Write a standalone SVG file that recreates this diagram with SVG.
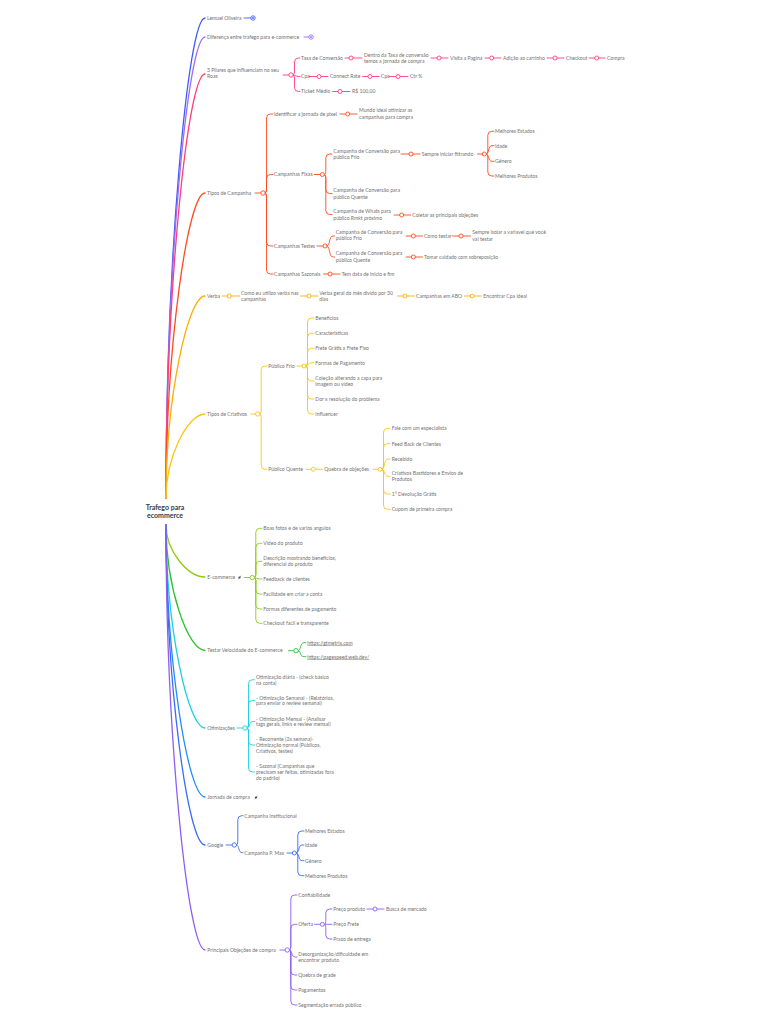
<svg xmlns="http://www.w3.org/2000/svg" width="768" height="1024" viewBox="0 0 768 1024">
<style>
.t{font-family:Lato,"Open Sans","Liberation Sans",sans-serif;font-size:5.1px;fill:#727272}
.u{text-decoration:underline}
.root{font-family:Lato,"Open Sans","Liberation Sans",sans-serif;font-size:7px;font-weight:bold;fill:#3a3a3a;text-anchor:middle}
.k path{fill:none;stroke-linecap:round;stroke-linejoin:round;stroke-width:0.9}
.k path.m{stroke-width:1.3}
.k circle{fill:#fff;stroke-width:0.9}
.b1{stroke:#3d5afe}.p1{stroke:#a06cf0}.pk{stroke:#ff3d7a}.rd{stroke:#ff4a1f}.or{stroke:#ffad00}.gd{stroke:#f9c515}
.lm{stroke:#8fcc14}.gr{stroke:#2fc02f}.cy{stroke:#1fcfdc}.jb{stroke:#1e8cff}.gb{stroke:#3b6bf5}.pu{stroke:#8e5ef2}
.dot{stroke:none}
.ic{fill:#4a4a4a}
</style>
<rect width="768" height="1024" fill="#fff"/>
<g id="connectors" class="k">
<path class="m b1" d="M166,498 C166,258 188,18 205,18"/>
<path class="m p1" d="M166,498 C166,267.5 188,37 205,37"/>
<path class="m pk" d="M166,498 C166,286 188,74 205,74"/>
<path class="m rd" d="M166,498 C166,345.5 188,193 205,193"/>
<path class="m or" d="M166,498 C166,397 188,296 205,296"/>
<path class="m gd" d="M166,498 C166,456 188,414 205,414"/>
<path class="m lm" d="M166,525 C166,551 188,577 205,577"/>
<path class="m gr" d="M166,525 C166,587.75 188,650.5 205,650.5"/>
<path class="m cy" d="M166,525 C166,626.5 188,728 205,728"/>
<path class="m jb" d="M166,525 C166,661 188,797 205,797"/>
<path class="m gb" d="M166,525 C166,685 188,845 205,845"/>
<path class="m pu" d="M166,525 C166,737.5 188,950 205,950"/>
<path class="b1" d="M244,18 H250.8"/>
<path class="p1" d="M304,37 H308.8"/>
<path class="pk" d="M283,75 H288.8"/>
<path class="pk" d="M293,75 Q294.5,75 294.5,72 V62 Q294.5,58 298.5,58 H300"/>
<path class="pk" d="M293,75 C296,75 295,76.5 299,76.5 H300"/>
<path class="pk" d="M293,75 Q294.5,75 294.5,78 V87.5 Q294.5,91.5 298.5,91.5 H300"/>
<path class="pk" d="M345,58 H349 M353,58 H362"/>
<path class="pk" d="M431,58 H437 M441,58 H448"/>
<path class="pk" d="M485,58 H489.7 M493.7,58 H501"/>
<path class="pk" d="M547,58 H553 M557,58 H564"/>
<path class="pk" d="M589,58 H594.7 M598.7,58 H605"/>
<path class="pk" d="M309,76.5 H317 M321,76.5 H328"/>
<path class="pk" d="M362.5,76.5 H368 M372,76.5 H379"/>
<path class="pk" d="M389,76.5 H396 M400,76.5 H408"/>
<path class="pk" d="M332.5,91.5 H338 M342,91.5 H350"/>
<path class="rd" d="M255,193 H261"/>
<path class="rd" d="M265,193 Q266.5,193 266.5,190 V118 Q266.5,114 270.5,114 H273"/>
<path class="rd" d="M265,193 Q266.5,193 266.5,190 V178.5 Q266.5,174.5 270.5,174.5 H273"/>
<path class="rd" d="M265,193 Q266.5,193 266.5,196 V242 Q266.5,246 270.5,246 H273"/>
<path class="rd" d="M265,193 Q266.5,193 266.5,196 V270 Q266.5,274 270.5,274 H273"/>
<path class="rd" d="M340,114 H345.7 M349.7,114 H357"/>
<path class="rd" d="M314,174.5 H320.3"/>
<path class="rd" d="M324.3,174.5 Q325.8,174.5 325.8,171.5 V158 Q325.8,154 329.8,154 H332"/>
<path class="rd" d="M324.3,174.5 Q325.8,174.5 325.8,177.5 V189.5 Q325.8,193.5 329.8,193.5 H332"/>
<path class="rd" d="M324.3,174.5 Q325.8,174.5 325.8,177.5 V210.5 Q325.8,214.5 329.8,214.5 H332"/>
<path class="rd" d="M401,154 H409 M413,154 H420"/>
<path class="rd" d="M477.5,154 H482.3"/>
<path class="rd" d="M486.3,154 Q487.8,154 487.8,151 V135.3 Q487.8,131.3 491.8,131.3 H494"/>
<path class="rd" d="M486.3,154 C489.5,154 487.8,145.7 492,145.7 H494"/>
<path class="rd" d="M486.3,154 C489.5,154 487.8,161.3 492,161.3 H494"/>
<path class="rd" d="M486.3,154 Q487.8,154 487.8,157 V172 Q487.8,176 491.8,176 H494"/>
<path class="rd" d="M394,215 H399.7 M403.7,215 H410.5"/>
<path class="rd" d="M317,246 H323"/>
<path class="rd" d="M327,246 C330.5,246 328.5,236 333,236 H334.5"/>
<path class="rd" d="M327,246 C330.5,246 328.5,257 333,257 H334.5"/>
<path class="rd" d="M406,236 H411.3 M415.3,236 H422.5"/>
<path class="rd" d="M452.5,236 H459 M463,236 H470.5"/>
<path class="rd" d="M406,257 H411.3 M415.3,257 H422.5"/>
<path class="rd" d="M323.5,274 H328 M332,274 H340"/>
<path class="or" d="M222,296 H227.3 M231.3,296 H239.5"/>
<path class="or" d="M300.5,296 H307 M311,296 H318"/>
<path class="or" d="M397.5,296 H403 M407,296 H414.5"/>
<path class="or" d="M464.5,296 H470.3 M474.3,296 H481.5"/>
<path class="gd" d="M251,414 H255.7"/>
<path class="gd" d="M259.7,414 Q261.2,414 261.2,411 V370 Q261.2,366 265.2,366 H267"/>
<path class="gd" d="M259.7,414 Q261.2,414 261.2,417 V465.3 Q261.2,469.3 265.2,469.3 H267"/>
<path class="gd" d="M297,366 H302"/>
<path class="gd" d="M306,366 Q307.5,366 307.5,363 V322 Q307.5,318 311.5,318 H314"/>
<path class="gd" d="M306,366 Q307.5,366 307.5,363 V337.3 Q307.5,333.3 311.5,333.3 H314"/>
<path class="gd" d="M306,366 Q307.5,366 307.5,363 V352.3 Q307.5,348.3 311.5,348.3 H314"/>
<path class="gd" d="M306,366 C309,366 308,362.7 312,362.7 H314"/>
<path class="gd" d="M306,366 Q307.5,366 307.5,369 V377 Q307.5,381 311.5,381 H314"/>
<path class="gd" d="M306,366 Q307.5,366 307.5,369 V395 Q307.5,399 311.5,399 H314"/>
<path class="gd" d="M306,366 Q307.5,366 307.5,369 V410 Q307.5,414 311.5,414 H314"/>
<path class="gd" d="M306,469.3 H311.3 M315.3,469.3 H322.5"/>
<path class="gd" d="M373,469.3 H378"/>
<path class="gd" d="M382,469.3 Q383.5,469.3 383.5,466.3 V432.3 Q383.5,428.3 387.5,428.3 H390"/>
<path class="gd" d="M382,469.3 Q383.5,469.3 383.5,466.3 V447.7 Q383.5,443.7 387.5,443.7 H390"/>
<path class="gd" d="M382,469.3 C385.5,469.3 383.5,459 388,459 H390"/>
<path class="gd" d="M382,469.3 C385.5,469.3 383.5,476.3 388,476.3 H390"/>
<path class="gd" d="M382,469.3 Q383.5,469.3 383.5,472.3 V490 Q383.5,494 387.5,494 H390"/>
<path class="gd" d="M382,469.3 Q383.5,469.3 383.5,472.3 V505.3 Q383.5,509.3 387.5,509.3 H390"/>
<path class="lm" d="M244,577.5 H250.3"/>
<path class="lm" d="M254.3,577.5 Q255.8,577.5 255.8,574.5 V532.3 Q255.8,528.3 259.8,528.3 H262"/>
<path class="lm" d="M254.3,577.5 Q255.8,577.5 255.8,574.5 V547.3 Q255.8,543.3 259.8,543.3 H262"/>
<path class="lm" d="M254.3,577.5 Q255.8,577.5 255.8,574.5 V565.3 Q255.8,561.3 259.8,561.3 H262"/>
<path class="lm" d="M254.3,577.5 C257,577.5 256.5,579 260,579 H262"/>
<path class="lm" d="M254.3,577.5 Q255.8,577.5 255.8,580.5 V590 Q255.8,594 259.8,594 H262"/>
<path class="lm" d="M254.3,577.5 Q255.8,577.5 255.8,580.5 V605 Q255.8,609 259.8,609 H262"/>
<path class="lm" d="M254.3,577.5 Q255.8,577.5 255.8,580.5 V619.3 Q255.8,623.3 259.8,623.3 H262"/>
<path class="gr" d="M288.5,650.7 H294"/>
<path class="gr" d="M298,650.7 C301.5,650.7 299.5,642.7 304,642.7 H306"/>
<path class="gr" d="M298,650.7 C301.5,650.7 299.5,656.7 304,656.7 H306"/>
<path class="cy" d="M237,728 H243"/>
<path class="cy" d="M247,728 Q248.5,728 248.5,725 V683.7 Q248.5,679.7 252.5,679.7 H254.5"/>
<path class="cy" d="M247,728 Q248.5,728 248.5,725 V704.5 Q248.5,700.5 252.5,700.5 H254.5"/>
<path class="cy" d="M247,728 C250.5,728 248.5,721.5 253,721.5 H254.5"/>
<path class="cy" d="M247,728 Q248.5,728 248.5,731 V741 Q248.5,745 252.5,745 H254.5"/>
<path class="cy" d="M247,728 Q248.5,728 248.5,731 V768 Q248.5,772 252.5,772 H254.5"/>
<path class="gb" d="M226,845 H232.3"/>
<path class="gb" d="M236.3,845 Q237.8,845 237.8,842 V819.7 Q237.8,815.7 241.8,815.7 H243"/>
<path class="gb" d="M236.3,845 C239.8,845 237.8,852.7 242.3,852.7 H243"/>
<path class="gb" d="M287,853 H292.3"/>
<path class="gb" d="M296.3,853 Q297.8,853 297.8,850 V835 Q297.8,831 301.8,831 H304"/>
<path class="gb" d="M296.3,853 C299.8,853 297.8,845 302.3,845 H304"/>
<path class="gb" d="M296.3,853 C299.8,853 297.8,860.7 302.3,860.7 H304"/>
<path class="gb" d="M296.3,853 Q297.8,853 297.8,856 V871.7 Q297.8,875.7 301.8,875.7 H304"/>
<path class="pu" d="M280,950 H285.3"/>
<path class="pu" d="M289.3,950 Q290.8,950 290.8,947 V899 Q290.8,895 294.8,895 H297"/>
<path class="pu" d="M289.3,950 Q290.8,950 290.8,947 V928.3 Q290.8,924.3 294.8,924.3 H297"/>
<path class="pu" d="M289.3,950 C292.8,950 290.8,957 295.3,957 H297"/>
<path class="pu" d="M289.3,950 Q290.8,950 290.8,953 V971 Q290.8,975 294.8,975 H297"/>
<path class="pu" d="M289.3,950 Q290.8,950 290.8,953 V986 Q290.8,990 294.8,990 H297"/>
<path class="pu" d="M289.3,950 Q290.8,950 290.8,953 V1001 Q290.8,1005 294.8,1005 H297"/>
<path class="pu" d="M314.5,924.3 H320.3"/>
<path class="pu" d="M324.3,924.3 Q325.8,924.3 325.8,921.3 V913 Q325.8,909 329.8,909 H332"/>
<path class="pu" d="M324.3,924.3 H332"/>
<path class="pu" d="M324.3,924.3 Q325.8,924.3 325.8,927.3 V935 Q325.8,939 329.8,939 H332"/>
<path class="pu" d="M367,909 H373 M377,909 H384"/>
<circle class="b1" cx="253" cy="18" r="2.2"/><circle cx="253" cy="18" r="0.9" class="dot" style="fill:#3d5afe"/>
<circle class="p1" cx="311" cy="37" r="2.2"/><circle cx="311" cy="37" r="0.9" class="dot" style="fill:#a06cf0"/>
<circle class="pk" cx="291" cy="75" r="2.2"/>
<circle class="pk" cx="351" cy="58" r="2"/>
<circle class="pk" cx="439" cy="58" r="2"/>
<circle class="pk" cx="491.7" cy="58" r="2"/>
<circle class="pk" cx="555" cy="58" r="2"/>
<circle class="pk" cx="596.7" cy="58" r="2"/>
<circle class="pk" cx="319" cy="76.5" r="2"/>
<circle class="pk" cx="370" cy="76.5" r="2"/>
<circle class="pk" cx="398" cy="76.5" r="2"/>
<circle class="pk" cx="340" cy="91.5" r="2"/>
<circle class="rd" cx="263" cy="193" r="2.2"/>
<circle class="rd" cx="347.7" cy="114" r="2"/>
<circle class="rd" cx="322.3" cy="174.5" r="2"/>
<circle class="rd" cx="411" cy="154" r="2"/>
<circle class="rd" cx="484.3" cy="154" r="2"/>
<circle class="rd" cx="401.7" cy="215" r="2"/>
<circle class="rd" cx="325" cy="246" r="2"/>
<circle class="rd" cx="413.3" cy="236" r="2"/>
<circle class="rd" cx="461" cy="236" r="2"/>
<circle class="rd" cx="413.3" cy="257" r="2"/>
<circle class="rd" cx="330" cy="274" r="2"/>
<circle class="or" cx="229.3" cy="296" r="2"/>
<circle class="or" cx="309" cy="296" r="2"/>
<circle class="or" cx="405" cy="296" r="2"/>
<circle class="or" cx="472.3" cy="296" r="2"/>
<circle class="gd" cx="257.7" cy="414" r="2.2"/>
<circle class="gd" cx="304" cy="366" r="2"/>
<circle class="gd" cx="313.3" cy="469.3" r="2"/>
<circle class="gd" cx="380" cy="469.3" r="2"/>
<circle class="lm" cx="252.3" cy="577.5" r="2.2"/>
<circle class="gr" cx="296" cy="650.7" r="2.2"/>
<circle class="cy" cx="245" cy="728" r="2.2"/>
<circle class="gb" cx="234.3" cy="845" r="2.2"/>
<circle class="gb" cx="294.3" cy="853" r="2"/>
<circle class="pu" cx="287.3" cy="950" r="2.2"/>
<circle class="pu" cx="322.3" cy="924.3" r="2"/>
<circle class="pu" cx="375" cy="909" r="2"/>
</g>
<g id="root"><text class="root" x="165" y="509.5">Trafego para</text><text class="root" x="165" y="517.8">ecommerce</text></g>
<g id="n1"><text class="t" x="207" y="19.75">Lemuel Oliveira</text></g>
<g id="n2"><text class="t" x="207" y="38.75">Diferença entre trafego para e-commerce</text></g>
<g id="n3"><text class="t" x="207" y="72.25">3 Pilares que influenciam no seu<tspan x="207" dy="6">Roas</tspan></text></g>
<g id="n3a"><text class="t" x="301" y="59.75">Taxa de Conversão</text></g>
<g id="n3a1"><text class="t" x="364" y="56.75">Dentro da Taxa de conversão<tspan x="364" dy="6.5">temos a jornada de compra</tspan></text></g>
<g id="n3a2"><text class="t" x="450" y="59.75">Visita a Pagina</text></g>
<g id="n3a3"><text class="t" x="503" y="59.75">Adição ao carrinho</text></g>
<g id="n3a4"><text class="t" x="566" y="59.75">Checkout</text></g>
<g id="n3a5"><text class="t" x="607" y="59.75">Compra</text></g>
<g id="n3b"><text class="t" x="301" y="78.25">Cpa</text></g>
<g id="n3b1"><text class="t" x="330" y="78.25">Connect Rate</text></g>
<g id="n3b2"><text class="t" x="381" y="78.25">Cpc</text></g>
<g id="n3b3"><text class="t" x="410" y="78.25">Ctr %</text></g>
<g id="n3c"><text class="t" x="301" y="93.25">Ticket Médio</text></g>
<g id="n3c1"><text class="t" x="352" y="93.25">R$ 100,00</text></g>
<g id="n4"><text class="t" x="207" y="194.75">Tipos de Campanha</text></g>
<g id="n4a"><text class="t" x="274" y="115.75">Identificar a jornada de pixel</text></g>
<g id="n4a1"><text class="t" x="359" y="112">Mundo ideal otimizar as<tspan x="359" dy="6.5">campanhas para compra</tspan></text></g>
<g id="n4b"><text class="t" x="274" y="176.25">Campanhas Fixas</text></g>
<g id="n4b1"><text class="t" x="333.3" y="152.5">Campanha de Conversão para<tspan x="333.3" dy="6.3">público Frio</tspan></text></g>
<g id="n4b1a"><text class="t" x="421.7" y="155.75">Sempre iniciar filtrando</text></g>
<g id="n4b1a1"><text class="t" x="495" y="133">Melhores Estados</text></g>
<g id="n4b1a2"><text class="t" x="495" y="147.5">Idade</text></g>
<g id="n4b1a3"><text class="t" x="495" y="163">Gênero</text></g>
<g id="n4b1a4"><text class="t" x="495" y="177.75">Melhores Produtos</text></g>
<g id="n4b2"><text class="t" x="333.3" y="191.75">Campanha de Conversão para<tspan x="333.3" dy="7">público Quente</tspan></text></g>
<g id="n4b3"><text class="t" x="333.3" y="212.75">Campanha de Whats para<tspan x="333.3" dy="7">público Rmkt próximo</tspan></text></g>
<g id="n4b3a"><text class="t" x="412.3" y="217">Coletar as principais objeções</text></g>
<g id="n4c"><text class="t" x="274" y="247.75">Campanhas Testes</text></g>
<g id="n4c1"><text class="t" x="335.7" y="233.75">Campanha de Conversão para<tspan x="335.7" dy="6.7">público Frio</tspan></text></g>
<g id="n4c1a"><text class="t" x="424" y="237.75">Como testar</text></g>
<g id="n4c1a1"><text class="t" x="472.3" y="233.75">Sempre isolar a variavel que você<tspan x="472.3" dy="7">vai testar</tspan></text></g>
<g id="n4c2"><text class="t" x="335.7" y="255">Campanha de Conversão para<tspan x="335.7" dy="6.7">público Quente</tspan></text></g>
<g id="n4c2a"><text class="t" x="424" y="258.75">Tomar cuidado com sobreposição</text></g>
<g id="n4d"><text class="t" x="274" y="275.75">Campanhas Sazonais</text></g>
<g id="n4d1"><text class="t" x="341.7" y="275.75">Tem data de inicio e fim</text></g>
<g id="n5"><text class="t" x="207" y="297.75">Verba</text></g>
<g id="n5a"><text class="t" x="241" y="295">Como eu utilizo verba nas<tspan x="241" dy="6">campanhas</tspan></text></g>
<g id="n5b"><text class="t" x="319.3" y="295">Verba geral do mês divido por 30<tspan x="319.3" dy="6">dias</tspan></text></g>
<g id="n5c"><text class="t" x="416" y="297.75">Campanhas em ABO</text></g>
<g id="n5d"><text class="t" x="483.3" y="297.75">Encontrar Cpa ideal</text></g>
<g id="n6"><text class="t" x="207" y="415.75">Tipos de Criativos</text></g>
<g id="n6a"><text class="t" x="268.3" y="367.75">Público Frio</text></g>
<g id="n6a1"><text class="t" x="315.3" y="319.75">Beneficios</text></g>
<g id="n6a2"><text class="t" x="315.3" y="335">Caracteristicas</text></g>
<g id="n6a3"><text class="t" x="315.3" y="350">Frete Grátis x Frete Fixo</text></g>
<g id="n6a4"><text class="t" x="315.3" y="364.5">Formas de Pagamento</text></g>
<g id="n6a5"><text class="t" x="315.3" y="379.75">Coleção alterando a capa para<tspan x="315.3" dy="6">imagem ou vídeo</tspan></text></g>
<g id="n6a6"><text class="t" x="315.3" y="400.75">Dor x resolução do problema</text></g>
<g id="n6a7"><text class="t" x="315.3" y="415.75">Influencer</text></g>
<g id="n6b"><text class="t" x="268.3" y="471">Público Quente</text></g>
<g id="n6b1"><text class="t" x="324.3" y="471">Quebra de objeções</text></g>
<g id="n6b1a"><text class="t" x="391.7" y="430">Fale com um especialista</text></g>
<g id="n6b1b"><text class="t" x="391.7" y="445.5">Feed Back de Clientes</text></g>
<g id="n6b1c"><text class="t" x="391.7" y="460.75">Recebido</text></g>
<g id="n6b1d"><text class="t" x="391.7" y="475">Criativos Bastidores e Envios de<tspan x="391.7" dy="6">Produtos</tspan></text></g>
<g id="n6b1e"><text class="t" x="391.7" y="495.75">1° Devolução Grátis</text></g>
<g id="n6b1f"><text class="t" x="391.7" y="511">Cupom de primeira compra</text></g>
<g id="n7"><text class="t" x="207.3" y="578.5">E-commerce</text><g class="ic"><circle cx="239.5" cy="577.5" r="1.1"/><path d="M238.3,579.2 L240.9,575.8" stroke="#4a4a4a" stroke-width="0.6"/></g></g>
<g id="n7a"><text class="t" x="263.3" y="530">Boas fotos e de varios angulos</text></g>
<g id="n7b"><text class="t" x="263.3" y="545">Vídeo do produto</text></g>
<g id="n7c"><text class="t" x="263.3" y="560">Descrição mostrando benefícios,<tspan x="263.3" dy="6">diferencial do produto</tspan></text></g>
<g id="n7d"><text class="t" x="263.3" y="580.75">Feedback de clientes</text></g>
<g id="n7e"><text class="t" x="263.3" y="595.75">Facilidade em criar a conta</text></g>
<g id="n7f"><text class="t" x="263.3" y="610.75">Formas diferentes de pagamento</text></g>
<g id="n7g"><text class="t" x="263.3" y="625">Checkout facil e transparente</text></g>
<g id="n8"><text class="t" x="207.3" y="652.25">Testar Velocidade do E-commerce</text></g>
<g id="n8a"><text class="t u" x="307.3" y="644.5">https://gtmetrix.com</text></g>
<g id="n8b"><text class="t u" x="307.3" y="658.5">https://pagespeed.web.dev/</text></g>
<g id="n9"><text class="t" x="207.3" y="729.5">Otimizações</text></g>
<g id="n9a"><text class="t" x="256" y="678.5">Otimização diária - (check básico<tspan x="256" dy="6">na conta)</tspan></text></g>
<g id="n9b"><text class="t" x="256" y="699.5">- Otimização Semanal - (Relatórios,<tspan x="256" dy="5.7">para enviar o review semanal)</tspan></text></g>
<g id="n9c"><text class="t" x="256" y="720.5">- Otimização Mensal -  (Analisar<tspan x="256" dy="5.7">tags gerais, links e review mensal)</tspan></text></g>
<g id="n9d"><text class="t" x="256" y="741">- Recorrente (2x semana)-<tspan x="256" dy="6">Otimização normal (Públicos,</tspan><tspan x="256" dy="5.8">Criativos, testes)</tspan></text></g>
<g id="n9e"><text class="t" x="256" y="767.75">- Sazonal (Campanhas que<tspan x="256" dy="6">precisam ser feitas, otimizadas fora</tspan><tspan x="256" dy="5.8">do padrão)</tspan></text></g>
<g id="n10"><text class="t" x="207.3" y="798.5">Jornada de compra</text><g class="ic"><circle cx="256" cy="797.5" r="1.1"/><path d="M254.8,799.2 L257.4,795.8" stroke="#4a4a4a" stroke-width="0.6"/></g></g>
<g id="n11"><text class="t" x="207.3" y="846.75">Google</text></g>
<g id="n11a"><text class="t" x="244.3" y="817.5">Campanha Institucional</text></g>
<g id="n11b"><text class="t" x="244.3" y="854.5">Campanha P. Max</text></g>
<g id="n11b1"><text class="t" x="305" y="832.75">Melhores Estados</text></g>
<g id="n11b2"><text class="t" x="305" y="846.75">Idade</text></g>
<g id="n11b3"><text class="t" x="305" y="862.5">Gênero</text></g>
<g id="n11b4"><text class="t" x="305" y="877.5">Melhores Produtos</text></g>
<g id="n12"><text class="t" x="207.3" y="951.75">Principais Objeções de compra</text></g>
<g id="n12a"><text class="t" x="298.3" y="896.75">Confiabilidade</text></g>
<g id="n12b"><text class="t" x="298.3" y="926">Oferta</text></g>
<g id="n12b1"><text class="t" x="333.3" y="910.75">Preço produto</text></g>
<g id="n12b1a"><text class="t" x="386" y="910.75">Busca de mercado</text></g>
<g id="n12b2"><text class="t" x="333.3" y="926">Preço Frete</text></g>
<g id="n12b3"><text class="t" x="333.3" y="940.75">Prazo de entrega</text></g>
<g id="n12c"><text class="t" x="298.3" y="955.75">Desorganização/dificuldade em<tspan x="298.3" dy="6.7">encontrar produto</tspan></text></g>
<g id="n12d"><text class="t" x="298.3" y="976.75">Quebra de grade</text></g>
<g id="n12e"><text class="t" x="298.3" y="991.75">Pagamentos</text></g>
<g id="n12f"><text class="t" x="298.3" y="1006.75">Segmentação errada público</text></g>
</svg>
